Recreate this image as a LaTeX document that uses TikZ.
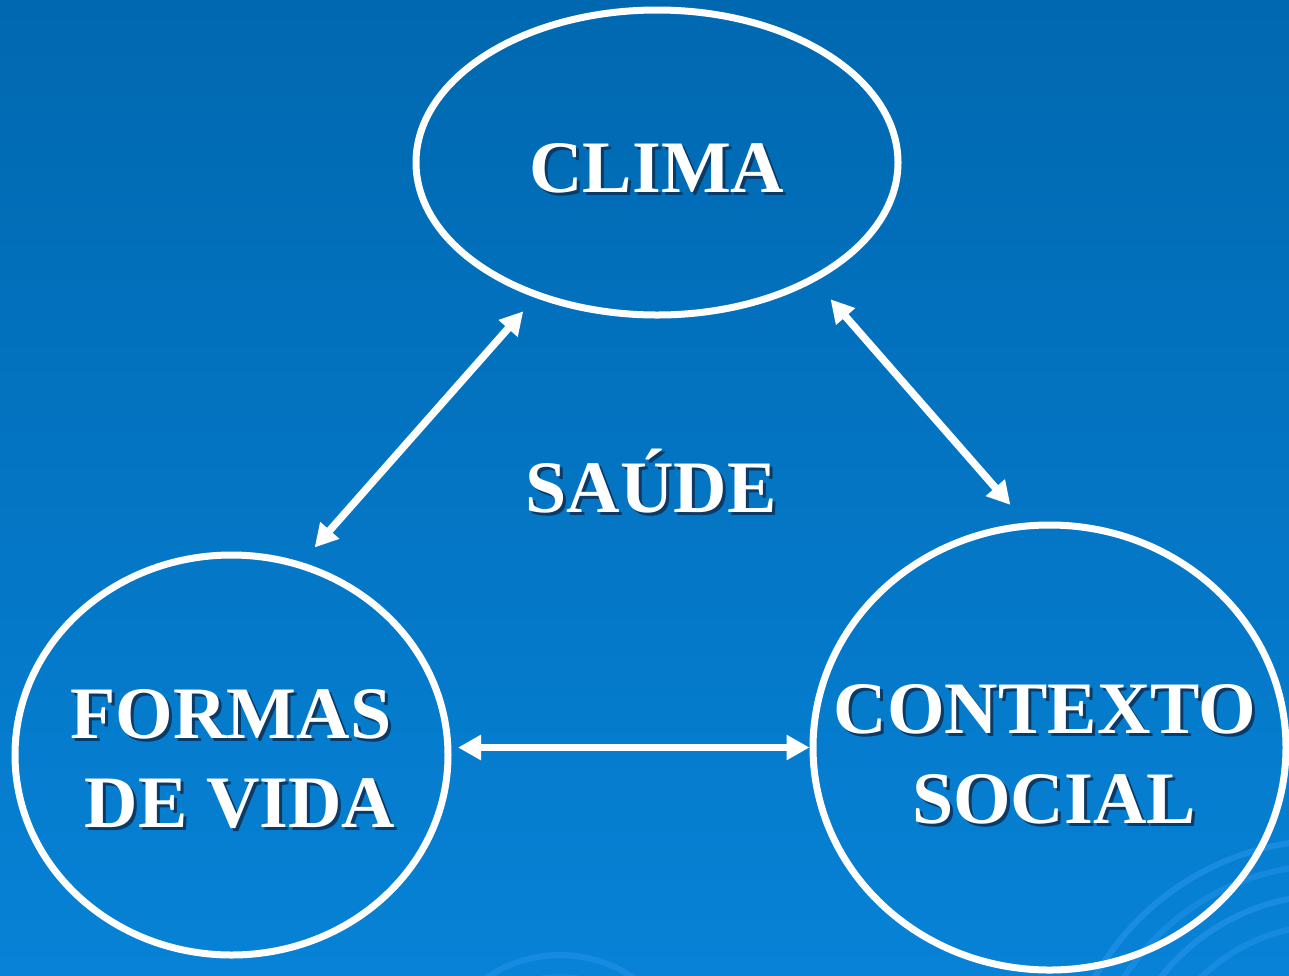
\documentclass[tikz,border=0pt]{standalone}
\usepackage{fontspec}
\setmainfont{Liberation Serif}
\usepackage{tikz}
\usetikzlibrary{arrows.meta, shapes.geometric, positioning, calc}
\usepackage{xcolor}

\definecolor{slidetop}{HTML}{0068B0}
\definecolor{slidebottom}{HTML}{0782D6}
\definecolor{swirl}{HTML}{2A96EC}
\definecolor{wordshade}{HTML}{0B3A66}

% text with a small dark drop shadow
\newcommand{\shadowed}[1]{\makebox[0pt][l]{\hspace{3pt}\raisebox{-3pt}{\color{wordshade}#1}}#1}

\tikzset{
  bubble/.style={ellipse, draw=white, line width=7pt, inner sep=0pt},
  link/.style={{Triangle[length=23pt,width=24pt]}-{Triangle[length=23pt,width=24pt]}, white, line width=7.5pt},
  word/.style={anchor=base, inner sep=0pt, text=white, font=\fontsize{74}{80}\selectfont\bfseries},
}

\begin{document}
\begin{tikzpicture}[x=1pt, y=-1pt]
      \useasboundingbox (0, 0) rectangle (1289, 975);
      \shade[top color=slidetop, middle color=slidetop, bottom color=slidebottom] (0, 0) rectangle (1289, 975);

      % faint swirls
      \begin{scope}
        \clip (0, 0) rectangle (1289, 975);
        \draw[swirl, opacity=0.55, line width=6pt] (1330, 1110) circle (270);
        \draw[swirl, opacity=0.45, line width=6pt] (1330, 1110) circle (245);
        \draw[swirl, opacity=0.55, line width=6pt] (1330, 1110) circle (215);
        \draw[swirl, opacity=0.45, line width=6pt] (1330, 1110) circle (185);
        \draw[swirl, opacity=0.45, line width=6pt] (560, 1085) circle (130);
        \draw[swirl, opacity=0.35, line width=6pt] (560, 1085) circle (108);
      \end{scope}

      \node[bubble, minimum width=482pt, minimum height=305pt] (clima) at (657, 162.5) {};
      \node[bubble, minimum width=433pt, minimum height=400pt] (formas) at (231.5, 755) {};
      \node[bubble, minimum width=473pt, minimum height=445pt] (contexto) at (1049.5, 747.5) {};

      \draw[link, shorten <=19.5pt, shorten >=18pt] (formas.70) -- (clima.228);
      \draw[link, shorten <=23.5pt, shorten >=23.5pt] (clima.323.5) -- (contexto.96.8);
      \draw[link, shorten <=6.5pt] (formas.east |- contexto.west) -- (contexto.west);

      \node[word] (climatext) at (657, 192) {\shadowed{CLIMA}};
      \node[word] (saude) at (651, 512) {\shadowed{SAÚDE}};
      \node[word] (formastext) at (231, 738) {\shadowed{FORMAS}};
      \node[word] (vidatext) at (240, 827) {\shadowed{DE VIDA}};
      \node[word] (contextotext) at (1045, 733) {\shadowed{CONTEXTO}};
      \node[word] (socialtext) at (1054, 823) {\shadowed{SOCIAL}};

    \end{tikzpicture}
\end{document}
